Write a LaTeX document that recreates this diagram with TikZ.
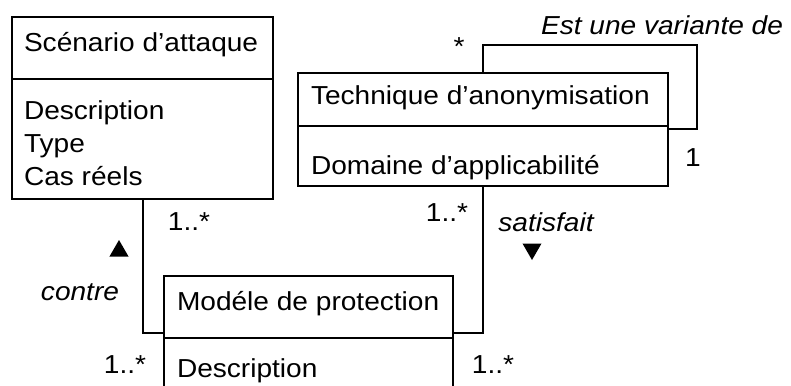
\documentclass[tikz,border=0pt]{standalone}
\usepackage{fontspec}
\setmainfont[FakeStretch=1.08]{Liberation Sans}
\usetikzlibrary{shapes.geometric}
\tikzset{
  every node/.style={inner sep=0pt, outer sep=0pt},
  umlbox/.style={draw, line width=1.2pt, anchor=north west, rectangle},
  conn/.style={draw, line width=1.2pt},
  txt/.style={anchor=base west, font=\fontsize{26}{33}\selectfont},
  lbl/.style={font=\fontsize{26}{33}\selectfont},
  ilbl/.style={font=\fontsize{26}{33}\selectfont\itshape},
  tri/.style={regular polygon, regular polygon sides=3, fill=black},
}
\begin{document}
\begin{tikzpicture}[x=1pt,y=-1pt]
\useasboundingbox (0,0) rectangle (791,385);
% Scenario box
\node[umlbox, minimum width=261pt, minimum height=182pt] (scen) at (12,17) {};
\draw[line width=1.2pt] (scen.west |- 0,79) coordinate (s1) -- (scen.east |- 0,79) coordinate (s2);
\node[txt] (scent) at (24,52) {Scénario d’attaque};
\node[txt] (scena) at (24,119) {Description};
\node[txt] (scenb) at (24,152) {Type};
\node[txt] (scenc) at (24,185) {Cas réels};
% Technique box
\node[umlbox, minimum width=370pt, minimum height=113pt] (tech) at (298,73) {};
\draw[line width=1.2pt] (tech.west |- 0,126) coordinate (t1) -- (tech.east |- 0,126) coordinate (t2);
\node[txt] (techt) at (311,104) {Technique d’anonymisation};
\node[txt] (techa) at (311,174) {Domaine d’applicabilité};
% Modele box
\node[umlbox, minimum width=289pt, minimum height=150pt] (model) at (164,276) {};
\draw[line width=1.2pt] (model.west |- 0,338) coordinate (m1) -- (model.east |- 0,338) coordinate (m2);
\node[txt] (modelt) at (177,310) {Modéle de protection};
\node[txt] (modela) at (177,377) {Description};
% self association
\coordinate (loopa) at (483,45);
\coordinate (loopb) at (697,129);
\draw[conn] (tech.north -| loopa) -- (loopa) -| (loopb) -- (tech.east |- loopb);
\node[lbl] (mstar) at (459,47) {*};
\node[lbl] (mone) at (693,158) {1};
\node[ilbl, anchor=base east] (variante) at (783,35) {Est une variante de};
% contre
\coordinate (ca) at (143,333);
\draw[conn] (scen.south -| ca) -- (ca) -- (model.west |- ca);
\node[lbl] (c1) at (189,222) {1..*};
\node[lbl] (c2) at (125,365) {1..*};
\node[ilbl] (contre) at (80,292) {contre};
\node[tri, minimum size=22pt] (up) at (119,251) {};
% satisfait
\coordinate (sa) at (483,333);
\draw[conn] (tech.south -| sa) -- (sa) -- (model.east |- sa);
\node[lbl] (s1l) at (447,213) {1..*};
\node[lbl] (s2l) at (493,365) {1..*};
\node[ilbl] (satisfait) at (546,222) {satisfait};
\node[tri, shape border rotate=180, minimum size=22pt] (down) at (532,249) {};
\end{tikzpicture}
\end{document}
